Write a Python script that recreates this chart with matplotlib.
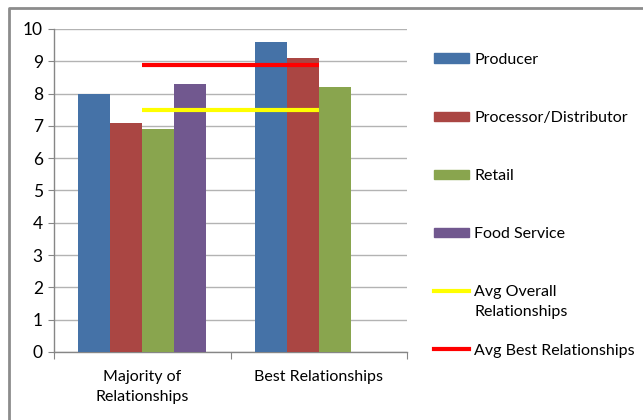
import matplotlib
matplotlib.use("Agg")
import matplotlib.pyplot as plt
from matplotlib.patches import Rectangle
from matplotlib.lines import Line2D
import numpy as np

plt.rcParams['font.family'] = ['Lato', 'DejaVu Sans']

categories = ["Majority of\nRelationships", "Best Relationships"]
series_names = ["Producer", "Processor/Distributor", "Retail", "Food Service"]
producer = [8.0, 9.6]
processor = [7.1, 9.1]
retail = [6.9, 8.2]
food_service = [8.3, np.nan]
avg_overall = 7.5
avg_best = 8.9
avg_names = ["Avg Overall\nRelationships", "Avg Best Relationships"]

bar_colors = ["#4572A7", "#AA4643", "#89A54E", "#71588F"]
line_colors = ["#FFFF00", "#FF0000"]

W, H, DPI = 643, 420, 100
fig = plt.figure(figsize=(W / DPI, H / DPI), dpi=DPI)
ax = fig.add_axes([54 / W, 1 - 352 / H, (407 - 54) / W, (352 - 29) / H])

x = np.arange(len(categories))
width = 0.181
values = [producer, processor, retail, food_service]
for i, (vals, col) in enumerate(zip(values, bar_colors)):
    ax.bar(x + (i - 1.5) * width, vals, width, color=col, zorder=3, linewidth=0)

ax.plot(x, [avg_overall] * len(x), color=line_colors[0], lw=3, zorder=4,
        solid_capstyle='butt')
ax.plot(x, [avg_best] * len(x), color=line_colors[1], lw=3, zorder=4,
        solid_capstyle='butt')

ax.set_xlim(-0.5, 1.5)
ax.set_ylim(0, 10)
ax.set_yticks(range(0, 11))
ax.yaxis.grid(True, color="#B3B3B3", lw=1, zorder=0)
ax.tick_params(axis='y', length=4, color="#868686", labelsize=12.5,
               labelcolor="#000000", pad=4)

ax.set_xticks([-0.5, 0.5, 1.5])
ax.set_xticklabels([])
ax.tick_params(axis='x', which='major', length=5, color="#868686")
ax.set_xticks(x, minor=True)
ax.set_xticklabels(categories, minor=True, fontsize=11.5, linespacing=1.55)
ax.tick_params(axis='x', which='minor', length=0, pad=13)

for side in ("top", "right"):
    ax.spines[side].set_visible(False)
for side in ("left", "bottom"):
    ax.spines[side].set_color("#868686")
    ax.spines[side].set_linewidth(1)

# legend entries, evenly spaced down the right side
entries = [(n, c, 'patch') for n, c in zip(series_names, bar_colors)] + \
          [(n, c, 'line') for n, c in zip(avg_names, line_colors)]
y0, step = 58, 58.2
for k, (label, col, kind) in enumerate(entries):
    yc = y0 + k * step
    if kind == 'patch':
        fig.patches.append(Rectangle((434 / W, 1 - (yc + 4.5) / H), 35 / W, 9 / H,
                                     transform=fig.transFigure, color=col))
    else:
        fig.lines.append(Line2D([434 / W, 469 / W], [1 - yc / H] * 2,
                                transform=fig.transFigure, color=col, lw=3))
    fig.text(474 / W, 1 - (yc - 5.5) / H, label, fontsize=11.5, va='top',
             ha='left', linespacing=1.5)

# chart frame
fig.lines.append(Line2D([8.5 / W, 8.5 / W, 1], [0, 1 - 7.5 / H, 1 - 7.5 / H],
                        transform=fig.transFigure, color="#8C8C8C", lw=2))

fig.savefig("out.png", dpi=DPI)
